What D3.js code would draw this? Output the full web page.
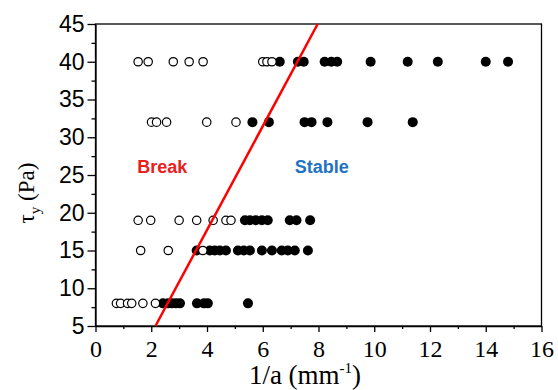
<!DOCTYPE html>
<html>
<head>
<meta charset="utf-8">
<script src="https://cdn.jsdelivr.net/npm/d3@7"></script>
<style>
  body { margin: 0; background: #fff; }
  svg { display: block; }
  .frame { fill: none; stroke: #000; stroke-width: 1.3; }
  .axis path, .axis line { stroke: #000; stroke-width: 1.3; }
</style>
</head>
<body>
<div id="chart"></div>
<script>
const stressLevels = [40, 32, 19, 15, 8];
const breakInvA = [
    [1.53, 1.89, 2.79, 3.36, 3.86, 6.00, 6.15, 6.33],
    [2.01, 2.19, 2.55, 3.99, 5.04],
    [1.53, 1.98, 3.00, 3.63, 4.22, 4.68, 4.86],
    [1.62, 2.61, 3.85],
    [0.75, 0.90, 1.15, 1.30, 1.70, 2.15]
];
const stableInvA = [
    [6.61, 7.26, 7.47, 8.22, 8.46, 8.67, 9.87, 11.2, 12.28, 14.0, 14.8],
    [5.63, 6.22, 7.50, 7.75, 8.32, 9.76, 11.38],
    [5.36, 5.54, 5.75, 5.97, 6.18, 6.97, 7.21, 7.70],
    [3.63, 4.10, 4.28, 4.46, 4.68, 5.11, 5.32, 5.54, 5.97, 6.33, 6.68, 6.90, 7.15, 7.62],
    [2.42, 2.60, 2.74, 2.89, 3.03, 3.64, 3.89, 4.03, 5.47]
];
// boundary line between the two regimes
const boundaryX = [2.15, 7.97];
const boundaryY = [5, 45];

const xTicks = [0, 2, 4, 6, 8, 10, 12, 14, 16];
const yTicks = [5, 10, 15, 20, 25, 30, 35, 40, 45];

const regionLabels = [
    { text: 'Break', x: 1.5, y: 25.3, color: '#e8201c' },
    { text: 'Stable', x: 7.15, y: 25.3, color: '#1f72c4' }
];

const W = 558, H = 390;
const margin = { top: 24, right: 16.5, bottom: 64, left: 95.5 };
const width = W - margin.left - margin.right;
const height = H - margin.top - margin.bottom;

const svg = d3.select('#chart').append('svg')
    .attr('width', W)
    .attr('height', H);

const g = svg.append('g')
    .attr('transform', `translate(${margin.left},${margin.top})`);

const x = d3.scaleLinear().domain([0, 16]).range([0, width]);
const y = d3.scaleLinear().domain([5, 45]).range([height, 0]);

// minor ticks first, then major with labels
const xMinor = d3.range(1, 16, 2);
const yMinor = d3.range(7.5, 45, 5);

g.append('g')
    .attr('class', 'axis')
    .attr('transform', `translate(0,${height})`)
    .call(d3.axisBottom(x).tickValues(xMinor).tickSize(3).tickFormat(''))
    .select('.domain').remove();

g.append('g')
    .attr('class', 'axis')
    .call(d3.axisLeft(y).tickValues(yMinor).tickSize(4).tickFormat(''))
    .select('.domain').remove();

const xAxis = g.append('g')
    .attr('class', 'axis')
    .attr('transform', `translate(0,${height})`)
    .call(d3.axisBottom(x).tickValues(xTicks).tickSize(6).tickPadding(8).tickSizeOuter(0));
xAxis.selectAll('text')
    .style('font-family', '"Liberation Serif", "Times New Roman", serif')
    .style('font-size', '24px')
    .attr('fill', '#000');

const yAxis = g.append('g')
    .attr('class', 'axis')
    .call(d3.axisLeft(y).tickValues(yTicks).tickSize(8).tickPadding(3).tickSizeOuter(0));
yAxis.selectAll('text')
    .style('font-family', '"Liberation Sans", Arial, sans-serif')
    .style('font-size', '23px')
    .attr('fill', '#000');

// plot frame
g.append('rect')
    .attr('class', 'frame')
    .attr('x', 0).attr('y', 0)
    .attr('width', width).attr('height', height);

// points
const flatten = (rows) => rows.flatMap((row, i) => row.map(v => ({ x: v, y: stressLevels[i] })));

g.selectAll('.stable')
    .data(flatten(stableInvA))
    .enter()
    .append('circle')
    .attr('class', 'stable')
    .attr('cx', d => x(d.x))
    .attr('cy', d => y(d.y))
    .attr('r', 5)
    .attr('fill', '#000');

g.selectAll('.break')
    .data(flatten(breakInvA))
    .enter()
    .append('circle')
    .attr('class', 'break')
    .attr('cx', d => x(d.x))
    .attr('cy', d => y(d.y))
    .attr('r', 4.2)
    .attr('fill', '#fff')
    .attr('stroke', '#000')
    .attr('stroke-width', 1.2);

// boundary line
g.append('line')
    .attr('x1', x(boundaryX[0])).attr('y1', y(boundaryY[0]))
    .attr('x2', x(boundaryX[1])).attr('y2', y(boundaryY[1]))
    .attr('stroke', '#ff0000')
    .attr('stroke-width', 2.5);

// region labels
g.selectAll('.region')
    .data(regionLabels)
    .enter()
    .append('text')
    .attr('class', 'region')
    .attr('x', d => x(d.x))
    .attr('y', d => y(d.y))
    .attr('fill', d => d.color)
    .style('font-family', '"Liberation Sans", Arial, sans-serif')
    .style('font-weight', 'bold')
    .style('font-size', '18px')
    .text(d => d.text);

// axis titles
const xTitle = svg.append('text')
    .attr('x', 305)
    .attr('y', 384)
    .attr('text-anchor', 'middle')
    .style('font-family', '"Liberation Serif", "Times New Roman", serif')
    .style('font-size', '27px');
xTitle.append('tspan').text('1/a (mm');
xTitle.append('tspan').attr('dy', -11).style('font-size', '15px').text('-1');
xTitle.append('tspan').attr('dy', 11).text(')');

const yTitle = svg.append('text')
    .attr('transform', `translate(34,193) rotate(-90)`)
    .attr('text-anchor', 'middle')
    .style('font-family', '"Liberation Serif", "Times New Roman", serif')
    .style('font-size', '23px');
yTitle.append('tspan').text('\u03c4');
yTitle.append('tspan').attr('dy', 6).style('font-size', '15px').text('y');
yTitle.append('tspan').attr('dy', -6).text(' (Pa)');
</script>
</body>
</html>
